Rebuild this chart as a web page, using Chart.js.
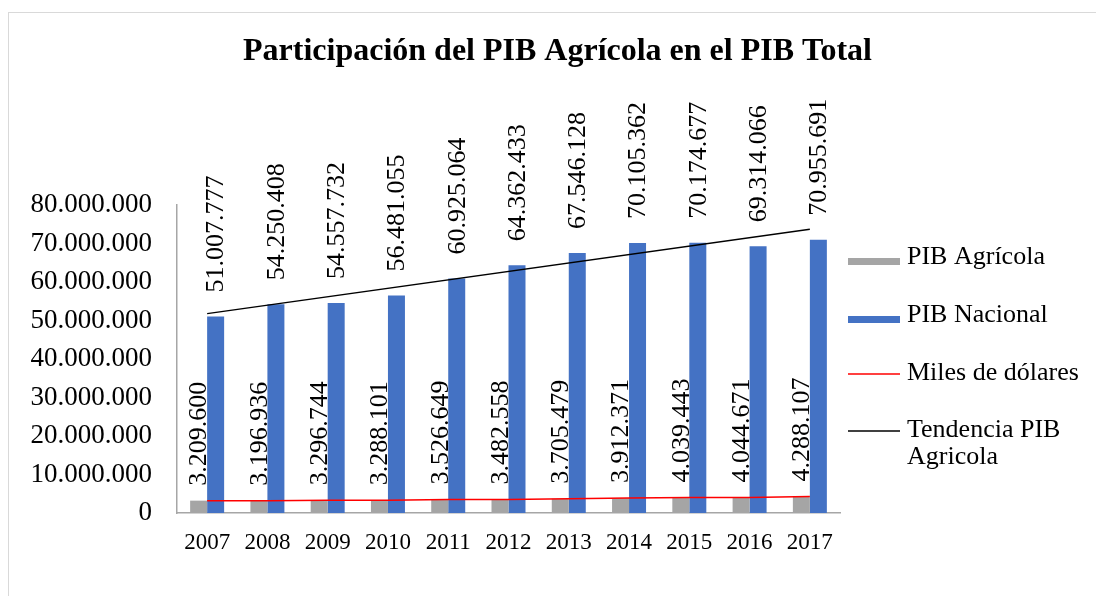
<!DOCTYPE html>
<html>
<head>
<meta charset="utf-8">
<script src="https://cdn.jsdelivr.net/npm/chart.js@4.4.1/dist/chart.umd.min.js"></script>
<style>
  body { margin: 0; background: #fff; }
  #wrap { position: relative; width: 1096px; height: 596px; overflow: hidden; }
  #frame { position: absolute; left: 8px; top: 12px; width: 1200px; height: 700px; border: 1px solid #d9d9d9; }
  canvas { position: absolute; left: 0; top: 0; }
</style>
</head>
<body>
<div id="wrap">
  <div id="frame"></div>
  <canvas id="pibChart" width="1096" height="596"></canvas>
</div>
<script>
// data
const years = ['2007', '2008', '2009', '2010', '2011', '2012', '2013', '2014', '2015', '2016', '2017'];
const pibAgricola = [3209600, 3196936, 3296744, 3288101, 3526649, 3482558, 3705479, 3912371, 4039443, 4044671, 4288107];
const pibNacional = [51007777, 54250408, 54557732, 56481055, 60925064, 64362433, 67546128, 70105362, 70174677, 69314066, 70955691];
// trend line end points (start 2007, end 2017)
const tendencia = [51800000, null, null, null, null, null, null, null, null, null, 73700000];
const yTicks = [0, 10000000, 20000000, 30000000, 40000000, 50000000, 60000000, 70000000, 80000000];

const serif = "'Liberation Serif', 'Times New Roman', serif";

function fmt(v) {
    return String(v).replace(/\B(?=(\d{3})+(?!\d))/g, '.');
}

// rotated value labels above the bars
const barLabels = {
    id: 'barLabels',
    afterDatasetsDraw(chart) {
        const ctx = chart.ctx;
        ctx.save();
        ctx.font = '26px ' + serif;
        ctx.fillStyle = '#000';
        ctx.textAlign = 'left';
        ctx.textBaseline = 'middle';
        chart.data.datasets.forEach((ds, i) => {
            if (ds.type !== 'bar') return;
            const meta = chart.getDatasetMeta(i);
            const gap = i === 0 ? 15 : 24;
            meta.data.forEach((bar, j) => {
                ctx.save();
                ctx.translate(bar.x + 1, bar.y - gap);
                ctx.rotate(-Math.PI / 2);
                ctx.fillText(fmt(ds.data[j]), 0, 0);
                ctx.restore();
            });
        });
        ctx.restore();
    }
};

// legend on the right, one entry per dataset
const sideLegend = {
    id: 'sideLegend',
    afterDraw(chart) {
        const ctx = chart.ctx;
        const rows = [257, 315, 373, 430];
        ctx.save();
        ctx.font = '26px ' + serif;
        ctx.fillStyle = '#000';
        ctx.textBaseline = 'middle';
        chart.data.datasets.forEach((ds, i) => {
            const y = rows[i];
            if (ds.type === 'bar') {
                ctx.fillStyle = ds.backgroundColor;
                ctx.fillRect(848, y + 1, 52, 7);
            } else {
                ctx.strokeStyle = ds.borderColor;
                ctx.lineWidth = 1.5;
                ctx.beginPath();
                ctx.moveTo(848, y + 1);
                ctx.lineTo(900, y + 1);
                ctx.stroke();
            }
            ctx.fillStyle = '#000';
            const lines = ds.legendLines || [ds.label];
            lines.forEach((t, k) => ctx.fillText(t, 907, y + k * 27));
        });
        ctx.restore();
    }
};

const ctx = document.getElementById('pibChart').getContext('2d');
new Chart(ctx, {
    data: {
        labels: years,
        datasets: [
            {
                type: 'bar',
                label: 'PIB Agrícola',
                data: pibAgricola,
                backgroundColor: '#A5A5A5',
                categoryPercentage: 0.564,
                barPercentage: 1,
                order: 2,
            },
            {
                type: 'bar',
                label: 'PIB Nacional',
                data: pibNacional,
                backgroundColor: '#4472C4',
                categoryPercentage: 0.564,
                barPercentage: 1,
                order: 2,
            },
            {
                type: 'line',
                label: 'Miles de dólares',
                data: pibAgricola,
                borderColor: '#FF0000',
                borderWidth: 1.5,
                pointRadius: 0,
                tension: 0,
                order: 0,
            },
            {
                type: 'line',
                label: 'Tendencia PIB Agricola',
                legendLines: ['Tendencia PIB', 'Agricola'],
                data: tendencia,
                borderColor: '#000000',
                borderWidth: 1.3,
                pointRadius: 0,
                spanGaps: true,
                order: 0,
            },
        ],
    },
    options: {
        responsive: false,
        animation: false,
        devicePixelRatio: 1,
        layout: { padding: { left: 19, right: 0, top: 0, bottom: 0 } },
        plugins: {
            legend: { display: false },
            tooltip: { enabled: false },
            title: {
                display: true,
                text: 'Participación del PIB Agrícola en el PIB Total',
                color: '#000',
                font: { family: serif, size: 32, weight: 'bold' },
                padding: { top: 33, bottom: 133.6 },
            },
        },
        scales: {
            x: {
                grid: { display: false, drawTicks: false },
                border: { display: true, color: '#A6A6A6', width: 1.5 },
                ticks: {
                    color: '#000',
                    font: { family: serif, size: 23 },
                    padding: 16,
                    maxRotation: 0,
                },
                afterFit: (scale) => { scale.height = 83; },
            },
            y: {
                min: 0,
                max: 80000000,
                grid: { display: false, drawTicks: false },
                border: { display: true, color: '#A6A6A6', width: 1.5 },
                afterBuildTicks: (scale) => { scale.ticks = yTicks.map((v) => ({ value: v })); },
                ticks: {
                    color: '#000',
                    font: { family: serif, size: 27 },
                    padding: 25,
                    callback: (v) => fmt(v),
                },
                afterFit: (scale) => { scale.width = 158; },
            },
            yR: {
                position: 'right',
                display: true,
                grid: { display: false, drawTicks: false },
                border: { display: false },
                ticks: { display: false },
                afterFit: (scale) => { scale.width = 256; },
            },
        },
    },
    plugins: [barLabels, sideLegend],
});
</script>
</body>
</html>
